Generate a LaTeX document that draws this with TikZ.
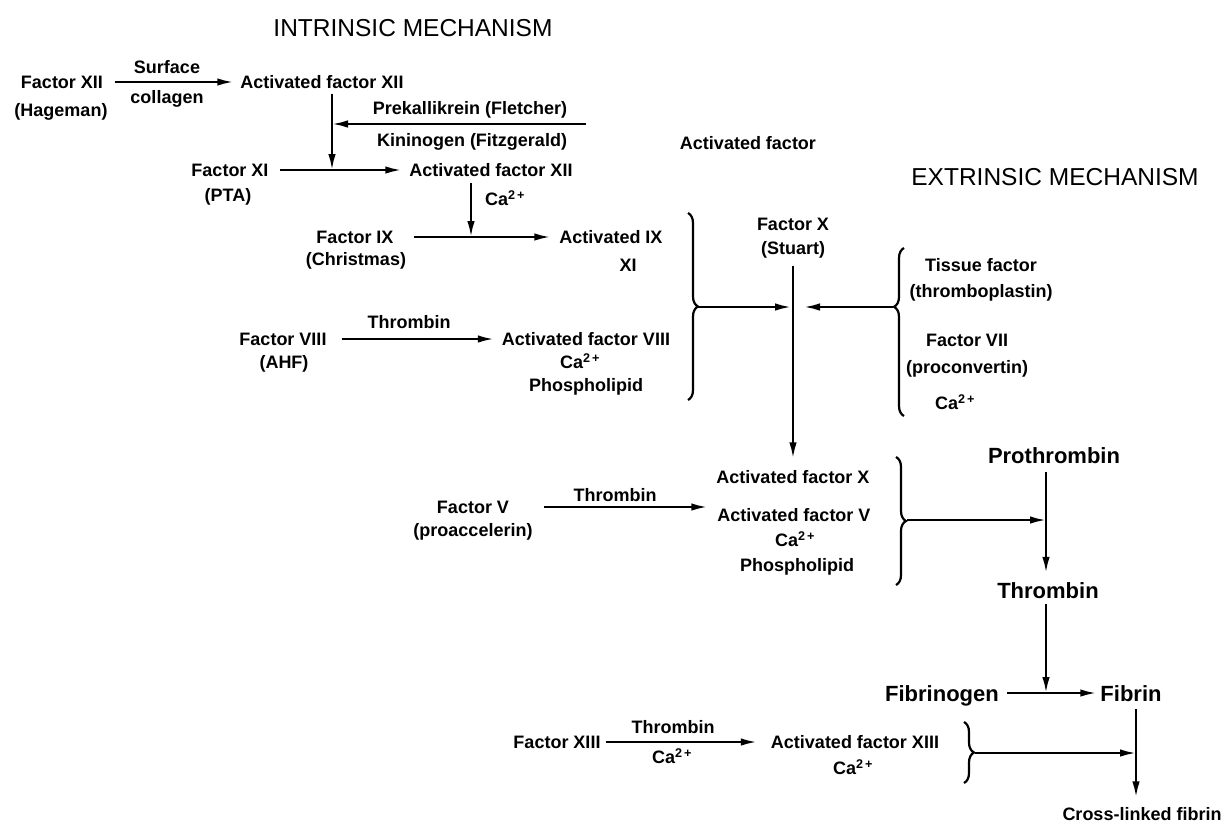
\documentclass[tikz,border=0pt]{standalone}
\usepackage{fontspec}
\setmainfont{Liberation Sans}
\usetikzlibrary{arrows.meta,decorations.pathreplacing}
\begin{document}
\begin{tikzpicture}[x=1pt,y=-1pt,
  lbl/.style={font=\bfseries\fontsize{18}{20}\selectfont, inner sep=0pt, text height=13pt, text depth=0pt},
  big/.style={font=\bfseries\fontsize{22}{24}\selectfont, inner sep=0pt, text height=16pt, text depth=0pt},
  ttl/.style={font=\fontsize{24.5}{28}\selectfont, inner sep=0pt, text height=17.5pt, text depth=0pt},
  arr/.style={line width=2.2pt, -{Latex[length=16pt,width=7.5pt]}},
  brc/.style={line width=2.2pt, decorate, decoration={brace, amplitude=10pt}}]
\useasboundingbox (0,0) rectangle (1226,823);
% titles
\node[ttl] (tin) at (413,28) {INTRINSIC MECHANISM};
\node[ttl] (ext) at (1055,177) {EXTRINSIC MECHANISM};
% factor XII
\node[lbl] (f12) at (62,82) {Factor XII};
\node[lbl] (f12b) at (61,110) {(Hageman)};
\node[lbl] (surf) at (167,67) {Surface};
\node[lbl] (coll) at (167,97) {collagen};
\node[lbl] (a12) at (322,82) {Activated factor XII};
\draw[arr] ([xshift=12pt]f12.east) -- ([xshift=-7pt]a12.west);
% factor XI
\node[lbl] (f11) at (230,170) {Factor XI};
\node[lbl] (pta) at (228,195) {(PTA)};
\node[lbl] (a12b) at (491,170) {Activated factor XII};
\draw[arr] ([xshift=11pt]f11.east) -- ([xshift=-8pt]a12b.west);
\coordinate (j1) at (332,170);
\draw[arr, shorten <=5pt] (a12.south -| j1) -- (j1);
\node[lbl] (prek) at (470,108) {Prekallikrein (Fletcher)};
\node[lbl] (kin) at (472,140) {Kininogen (Fitzgerald)};
\coordinate (pk) at (586,124);
\draw[arr] (pk) -- (pk -| j1);
% factor IX
\node[lbl] (ca1) at (505,199) {Ca\textsuperscript{2\,+}};
\node[lbl] (f9) at (355,237) {Factor IX};
\node[lbl] (chr) at (356,259) {(Christmas)};
\node[lbl] (a9) at (611,237) {Activated IX};
\node[lbl] (xi) at (628,265) {XI};
\draw[arr] ([xshift=20pt]f9.east) -- ([xshift=-9pt]a9.west);
\coordinate (j2) at (471,237);
\draw[arr, shorten <=6pt] (a12b.south -| j2) -- (j2);
% factor VIII
\node[lbl] (f8) at (283,339) {Factor VIII};
\node[lbl] (ahf) at (284,362) {(AHF)};
\node[lbl] (thr1) at (409,322) {Thrombin};
\node[lbl] (a8) at (586,339) {Activated factor VIII};
\node[lbl] (ca2) at (580,362) {Ca\textsuperscript{2\,+}};
\node[lbl] (ph1) at (586,385) {Phospholipid};
\draw[arr] ([xshift=15pt]f8.east) -- ([xshift=-8pt]a8.west);
% left brace
\coordinate (b1t) at (688,213);
\coordinate (b1b) at (688,400);
\coordinate (c1) at (698,307);
\draw[brc] (b1t) -- (b1b);
% activated factor label
\node[lbl] (act) at (748,143) {Activated factor};
% factor X
\node[lbl] (fx) at (793,224) {Factor X};
\node[lbl] (stu) at (793,248) {(Stuart)};
\node[lbl] (a10) at (793,477) {Activated factor X};
\draw[arr, shorten <=11pt, shorten >=12pt] (stu.south) -- (a10.north);
% extrinsic brace
\coordinate (b2b) at (904,416);
\coordinate (b2t) at (904,248);
\coordinate (c2) at (893,307);
\draw[line width=2.2pt, decorate, decoration={brace, amplitude=10pt, aspect=0.65}] (b2b) -- (b2t);
\coordinate (xl) at (791,307);
\coordinate (xr) at (804,307);
\draw[arr] (c1) -- (xl);
\draw[arr] (c2) -- (xr);
\node[lbl] (tis) at (981,265) {Tissue factor};
\node[lbl] (thp) at (981,291) {(thromboplastin)};
\node[lbl] (f7) at (967,340) {Factor VII};
\node[lbl] (pcv) at (967,367) {(proconvertin)};
\node[lbl] (ca3) at (955,403) {Ca\textsuperscript{2\,+}};
% factor V
\node[lbl] (fv) at (473,507) {Factor V};
\node[lbl] (pac) at (473,530) {(proaccelerin)};
\node[lbl] (thr2) at (615,495) {Thrombin};
\node[lbl] (a5) at (794,515) {Activated factor V};
\node[lbl] (ca4) at (795,540) {Ca\textsuperscript{2\,+}};
\node[lbl] (ph2) at (797,565) {Phospholipid};
\draw[arr] ([xshift=35pt]fv.east) -- ([xshift=-10pt]a5.west |- fv.east);
% brace 3
\coordinate (b3t) at (896,457);
\coordinate (b3b) at (896,585);
\coordinate (c3) at (907,520);
\draw[brc] (b3t) -- (b3b);
% prothrombin / thrombin
\node[big] (proth) at (1054,455) {Prothrombin};
\node[big] (thr3) at (1048,590) {Thrombin};
\coordinate (j3) at (1046,520);
\draw[arr] (c3) -- (j3);
\draw[arr, shorten <=9pt, shorten >=9pt] (proth.south -| j3) -- (thr3.north -| j3);
% fibrin
\node[big] (fbg) at (942,693) {Fibrinogen};
\node[big] (fib) at (1131,693) {Fibrin};
\draw[arr] ([xshift=8pt]fbg.east) -- ([xshift=-4pt]fib.west);
\coordinate (j4) at (1046,693);
\draw[arr, shorten <=6pt] (thr3.south -| j4) -- (j4);
\node[lbl] (clf) at (1142,814) {Cross-linked fibrin};
\coordinate (j5) at (1136,754);
\draw[arr, shorten <=8pt, shorten >=10pt] (fib.south -| j5) -- (clf.north -| j5);
% factor XIII
\node[lbl] (f13) at (557,742) {Factor XIII};
\node[lbl] (thr4) at (673,727) {Thrombin};
\node[lbl] (ca5) at (672,757) {Ca\textsuperscript{2\,+}};
\node[lbl] (a13) at (855,742) {Activated factor XIII};
\node[lbl] (ca6) at (853,768) {Ca\textsuperscript{2\,+}};
\draw[arr] ([xshift=5pt]f13.east) -- ([xshift=-14pt]a13.west);
% brace 4
\coordinate (b4t) at (964,722);
\coordinate (b4b) at (964,783);
\coordinate (c4) at (975,753);
\draw[brc] (b4t) -- (b4b);
\draw[arr] (c4) -- (c4 -| j5);
\end{tikzpicture}
\end{document}
